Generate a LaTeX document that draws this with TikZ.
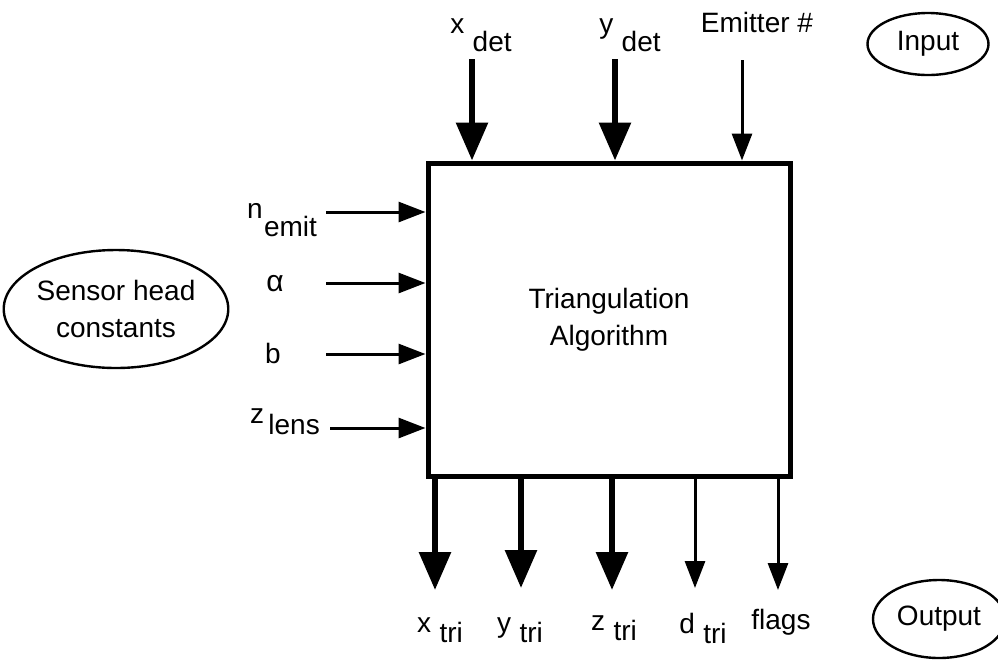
\documentclass[tikz,border=0pt]{standalone}
\usepackage{fontspec}
\setmainfont{Liberation Sans}
\usetikzlibrary{arrows.meta,shapes.geometric}

% 上下标式标签：主字母抬高，下标降低
\newcommand{\sublbl}[3][0.32em]{\raisebox{#1}{#2}\hspace{0.3em}\raisebox{-#1}{#3}}

\begin{document}
\begin{tikzpicture}[x=0.5pt, y=-0.5pt, font=\fontsize{14}{18.5}\selectfont,
	bigarrow/.style={line width=3pt, -{Triangle[length=19pt, width=15.5pt]}},
	thinarrow/.style={line width=1.5pt, -{Triangle[length=13.5pt, width=10pt]}},
	bubble/.style={ellipse, draw, line width=1.2pt, inner sep=0pt, align=center}]
	\useasboundingbox (0,0) rectangle (998,661);

	% 主框
	\node[draw, line width=2.5pt, minimum width=181pt, minimum height=156.5pt, align=center] (algo) at (609,319.5) {Triangulation\\Algorithm};

	% 输入 (上方)
	\coordinate (xdet) at (472,59);
	\coordinate (ydet) at (615,59);
	\coordinate (emit) at (742,60);
	\draw[bigarrow] (xdet) -- (xdet |- algo.north);
	\draw[bigarrow] (ydet) -- (ydet |- algo.north);
	\draw[thinarrow] (emit) -- (emit |- algo.north);
	\node (xdetlbl) at (481,35) {\sublbl{x}{det}};
	\node (ydetlbl) at (630,35) {\sublbl{y}{det}};
	\node (emitlbl) at (757,22) {Emitter \#};

	% 传感头常数 (左侧)
	\coordinate (nin) at (326,212);
	\coordinate (ain) at (326,283);
	\coordinate (bin) at (326,354);
	\coordinate (zin) at (330,428);
	\foreach \c in {nin,ain,bin,zin}
		\draw[thinarrow] (\c) -- (\c -| algo.west);
	\node (nlbl) at (282,220) {\sublbl{n\kern-0.25em}{emit}};
	\node (albl) at (275,284) {\fontsize{15}{18}\selectfont α};
	\node (blbl) at (273,353) {b};
	\node (zlbl) at (285,422) {\sublbl[0.2em]{z\kern-0.15em}{lens}};

	% 输出 (下方)
	\coordinate (xout) at (435,590);
	\coordinate (yout) at (521,588);
	\coordinate (zout) at (612,590);
	\coordinate (dout) at (695,588);
	\coordinate (fout) at (778,590);
	\draw[bigarrow] (algo.south -| xout) -- (xout);
	\draw[bigarrow] (algo.south -| yout) -- (yout);
	\draw[bigarrow] (algo.south -| zout) -- (zout);
	\draw[thinarrow] (algo.south -| dout) -- (dout);
	\draw[thinarrow] (algo.south -| fout) -- (fout);
	\node (xtri) at (440,630) {\sublbl[0.18em]{x}{tri}};
	\node (ytri) at (520,630) {\sublbl[0.18em]{y}{tri}};
	\node (ztri) at (614,628) {\sublbl[0.18em]{z}{tri}};
	\node (dtri) at (703,628) {\sublbl[0.18em]{d}{tri}};
	\node (flags) at (781,622) {flags};

	% 椭圆标注
	\node[bubble, minimum width=60.5pt, minimum height=31pt] (input) at (928,44) {Input};
	\node[bubble, minimum width=66pt, minimum height=39pt] (output) at (939,619) {Output};
	\node[bubble, minimum width=106pt, minimum height=59pt] (sensor) at (116,309) {Sensor head\\constants};
\end{tikzpicture}
\end{document}
